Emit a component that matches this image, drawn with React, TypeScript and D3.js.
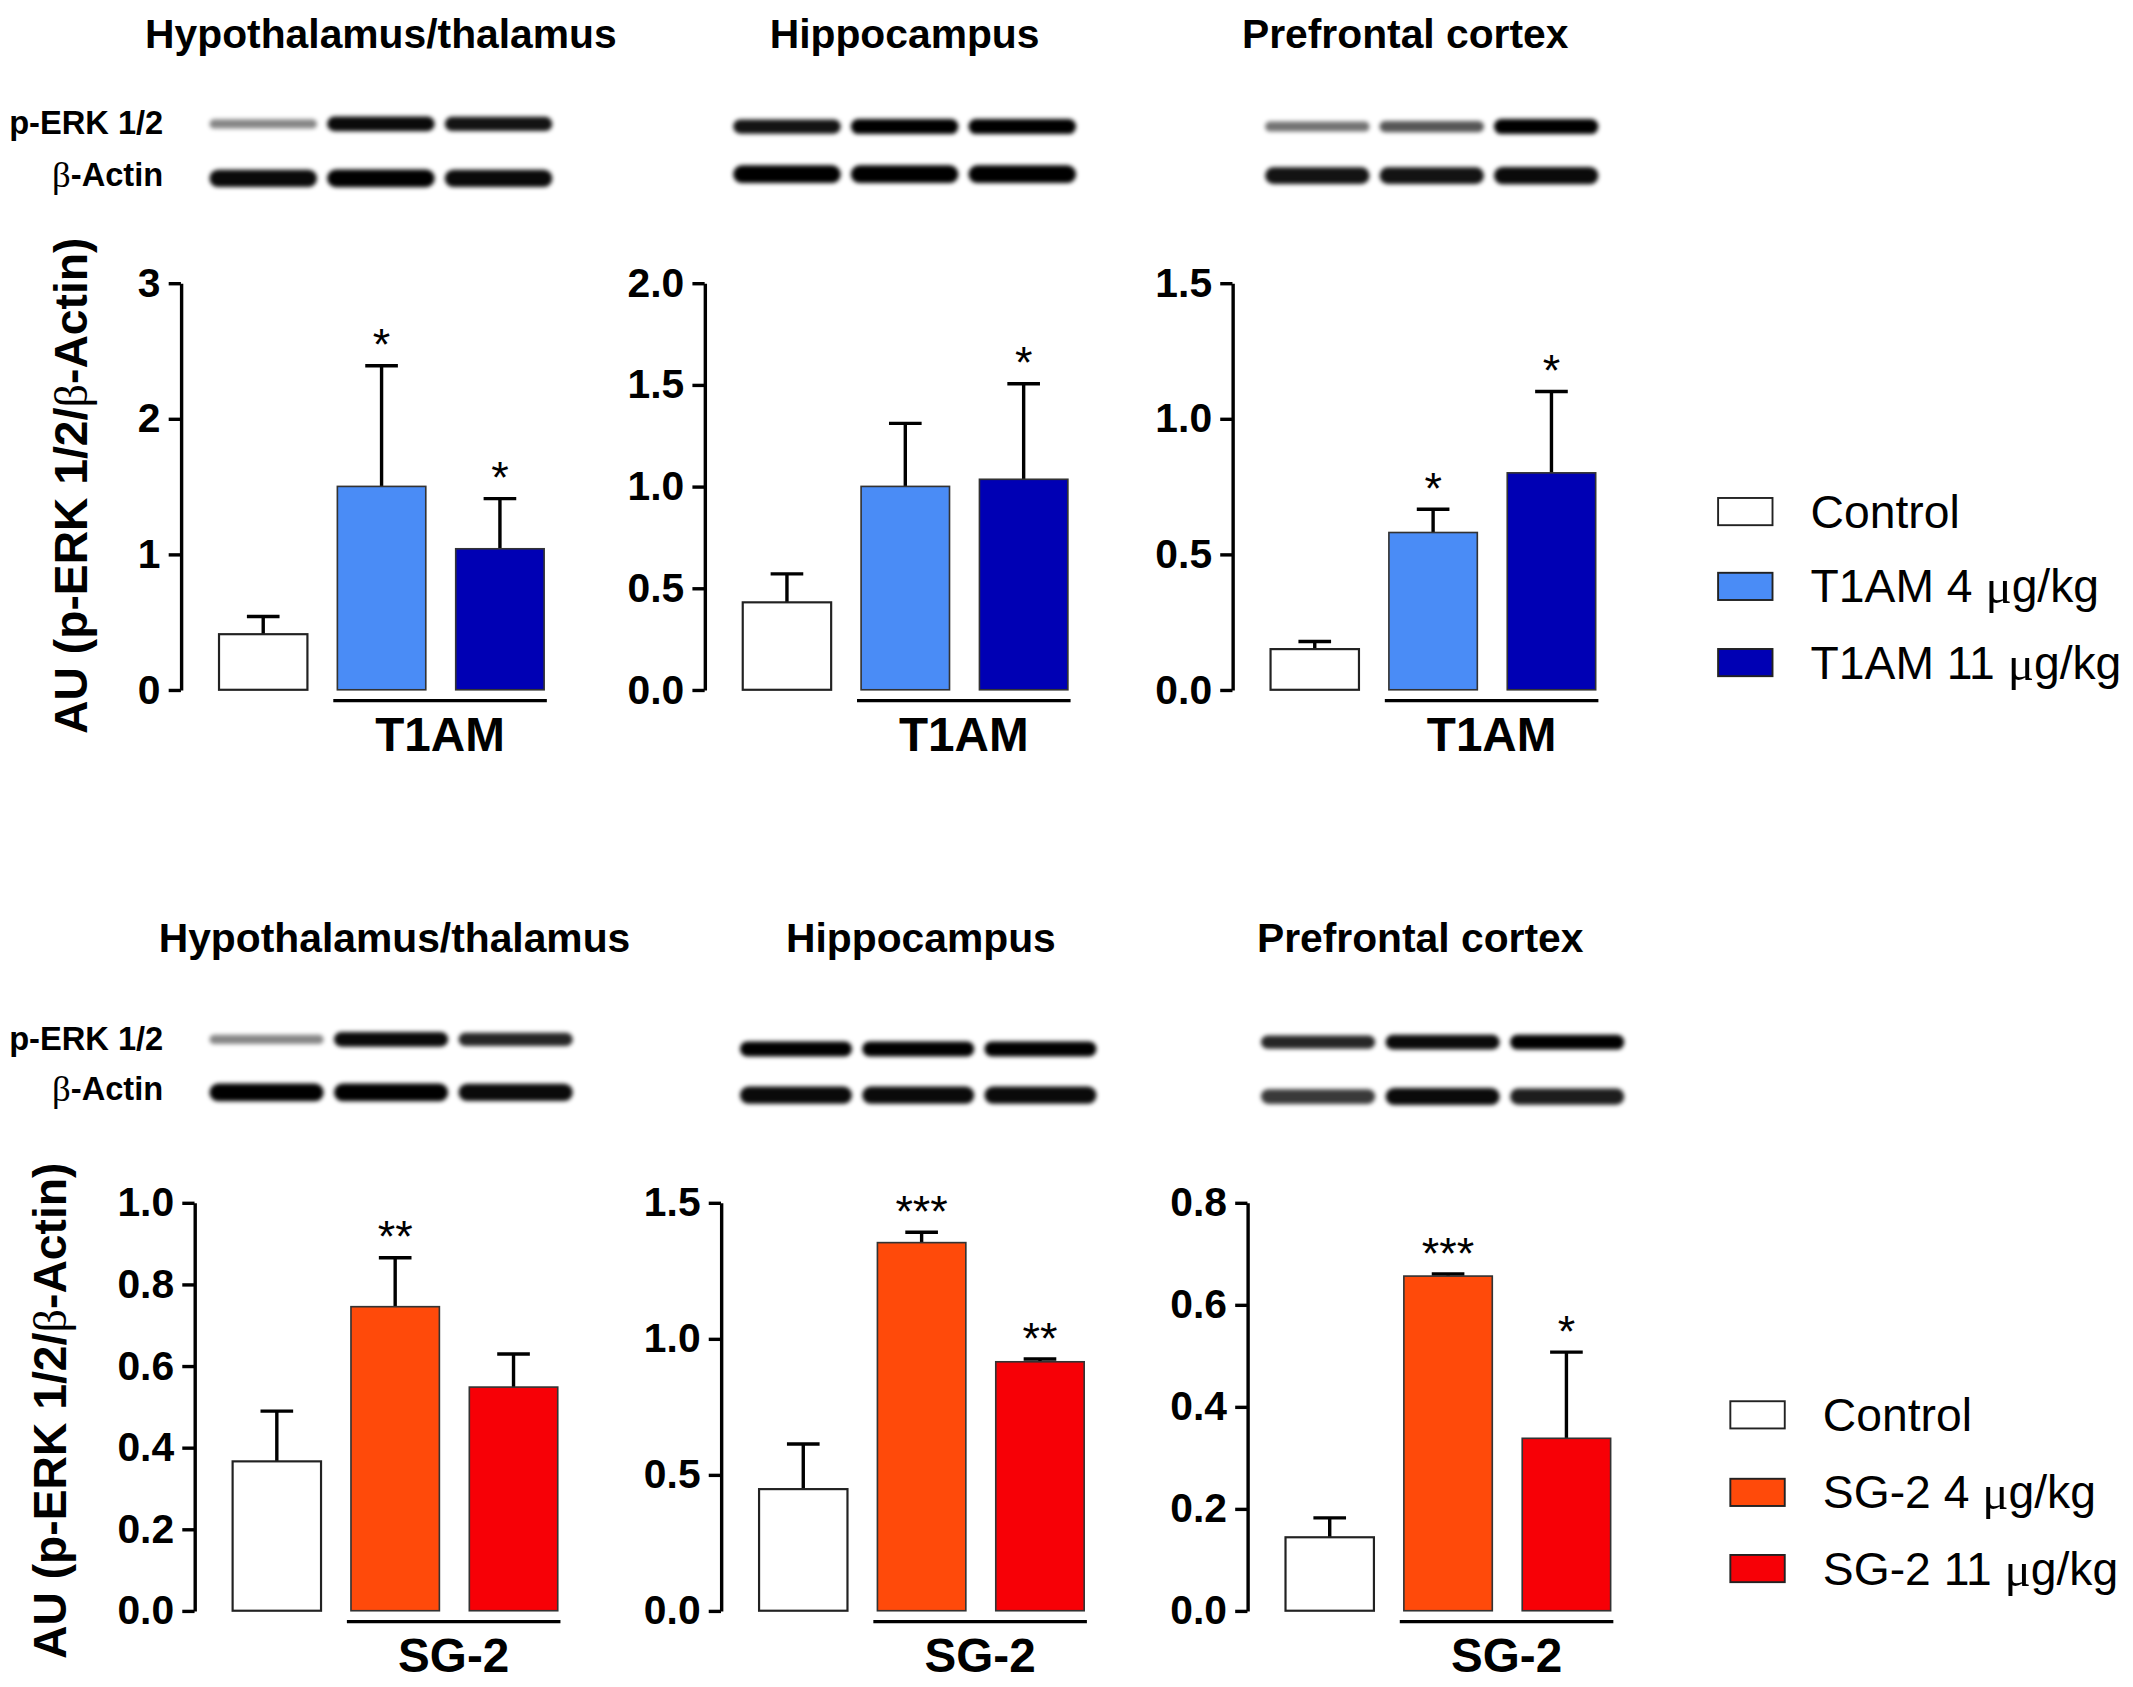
import React, { useEffect, useRef } from 'react';
import * as d3 from 'd3';

// drawing units (viewBox) – the svg is scaled up to 2133 x 1687
const W = 1568;
const H = 1240;

const regions = ['Hypothalamus/thalamus', 'Hippocampus', 'Prefrontal cortex'];

const t1amGroups = ['Control', 'T1AM 4 μg/kg', 'T1AM 11 μg/kg'];
const sg2Groups = ['Control', 'SG-2 4 μg/kg', 'SG-2 11 μg/kg'];

// means and SEM, one row per brain region
const t1amMeans = [
  [0.41, 1.5, 1.04],
  [0.43, 1.0, 1.035],
  [0.15, 0.58, 0.8],
];
const t1amSem = [
  [0.13, 0.89, 0.37],
  [0.14, 0.31, 0.47],
  [0.028, 0.086, 0.3],
];
const t1amStars = [
  ['', '*', '*'],
  ['', '', '*'],
  ['', '*', '*'],
];
const t1amTicks = [
  [0, 1, 2, 3],
  [0, 0.5, 1, 1.5, 2],
  [0, 0.5, 1, 1.5],
];
const t1amTickFormat = ['d', '.1f', '.1f'];

const sg2Means = [
  [0.366, 0.745, 0.548],
  [0.447, 1.353, 0.915],
  [0.144, 0.656, 0.338],
];
const sg2Sem = [
  [0.123, 0.12, 0.081],
  [0.166, 0.038, 0.01],
  [0.038, 0.004, 0.169],
];
const sg2Stars = [
  ['', '**', ''],
  ['', '***', '**'],
  ['', '***', '*'],
];
const sg2Ticks = [
  [0, 0.2, 0.4, 0.6, 0.8, 1.0],
  [0, 0.5, 1.0, 1.5],
  [0, 0.2, 0.4, 0.6, 0.8],
];
const sg2TickFormat = ['.1f', '.1f', '.1f'];

// western blot band darkness (0..1), per region, per lane
const t1amErkBands = [
  [0.3, 0.95, 0.9],
  [0.9, 1, 1],
  [0.4, 0.55, 1],
];
const t1amActinBands = [
  [0.95, 1, 0.95],
  [1, 1, 1],
  [0.9, 0.9, 0.95],
];
const sg2ErkBands = [
  [0.3, 0.95, 0.8],
  [1, 1, 1],
  [0.8, 0.95, 1],
];
const sg2ActinBands = [
  [1, 1, 0.95],
  [0.95, 0.95, 0.95],
  [0.7, 0.95, 0.85],
];

const t1amColors = ['#ffffff', '#4a8cf6', '#0000b4'];
const sg2Colors = ['#ffffff', '#ff4a0a', '#f70006'];

const FONT = '"Liberation Sans", Arial, Helvetica, sans-serif';
const SERIF = '"Liberation Serif", "Times New Roman", serif';

const rows = [
  {
    drug: 'T1AM',
    groups: t1amGroups,
    means: t1amMeans,
    sem: t1amSem,
    stars: t1amStars,
    ticks: t1amTicks,
    tickFormat: t1amTickFormat,
    colors: t1amColors,
    erk: t1amErkBands,
    actin: t1amActinBands,
    axisX: [133, 518, 906],
    top: 208,
    base: 507,
    titleY: 35,
    blotX: [
      [152, 408],
      [537, 793],
      [928, 1177],
    ],
    erkY: [91, 93, 93],
    actinY: [131, 128, 129],
    labelErkY: 90,
    labelActinY: 128,
    legendX: 1263,
    legendY: [376, 431, 487],
    yLabel: [52, 357],
  },
  {
    drug: 'SG-2',
    groups: sg2Groups,
    means: sg2Means,
    sem: sg2Sem,
    stars: sg2Stars,
    ticks: sg2Ticks,
    tickFormat: sg2TickFormat,
    colors: sg2Colors,
    erk: sg2ErkBands,
    actin: sg2ActinBands,
    axisX: [143, 530, 917],
    top: 884,
    base: 1184,
    titleY: 700,
    blotX: [
      [152, 423],
      [542, 808],
      [925, 1196],
    ],
    erkY: [764, 771, 766],
    actinY: [803, 805, 806],
    labelErkY: 763,
    labelActinY: 800,
    legendX: 1272,
    legendY: [1040, 1097, 1153],
    yLabel: [37, 1037],
  },
];

const titleShift = [0, 0, -20];

const App = () => {
  const svgRef = useRef(null);

  useEffect(() => {
    const svg = d3.select(svgRef.current);
    svg.selectAll('*').remove();

    const defs = svg.append('defs');
    defs
      .append('filter')
      .attr('id', 'blot-blur')
      .attr('x', '-20%')
      .attr('y', '-100%')
      .attr('width', '140%')
      .attr('height', '300%')
      .append('feGaussianBlur')
      .attr('stdDeviation', 1.7);

    svg.append('rect').attr('width', W).attr('height', H).attr('fill', '#fff');

    rows.forEach((row) => {
      const g = svg.append('g').attr('font-family', FONT);

      // y axis title
      const yl = g
        .append('text')
        .attr('transform', `translate(${row.yLabel[0]},${row.yLabel[1]}) rotate(-90)`)
        .attr('text-anchor', 'middle')
        .attr('dominant-baseline', 'central')
        .attr('font-size', 34)
        .attr('font-weight', 'bold');
      yl.append('tspan').text('AU (p-ERK 1/2/');
      yl.append('tspan').attr('font-family', SERIF).attr('font-weight', 'normal').text('β');
      yl.append('tspan').text('-Actin)');

      // blot labels
      g.append('text')
        .attr('x', 120)
        .attr('y', row.labelErkY)
        .attr('text-anchor', 'end')
        .attr('dominant-baseline', 'central')
        .attr('font-size', 24)
        .attr('font-weight', 'bold')
        .text('p-ERK 1/2');
      const al = g
        .append('text')
        .attr('x', 120)
        .attr('y', row.labelActinY)
        .attr('text-anchor', 'end')
        .attr('dominant-baseline', 'central')
        .attr('font-size', 24)
        .attr('font-weight', 'bold');
      al.append('tspan').attr('font-family', SERIF).attr('font-weight', 'normal').attr('font-size', 27).text('β');
      al.append('tspan').text('-Actin');

      regions.forEach((region, ri) => {
        const ax = row.axisX[ri];
        const ticks = row.ticks[ri];
        const y = d3
          .scaleLinear()
          .domain([0, ticks[ticks.length - 1]])
          .range([row.base, row.top]);
        const x = d3
          .scaleBand()
          .domain(row.groups)
          .range([ax + 28, ax + 267])
          .paddingInner(0.253)
          .paddingOuter(0);
        const bw = x.bandwidth();

        // title
        g.append('text')
          .attr('x', ax + 147 + titleShift[ri])
          .attr('y', row.titleY)
          .attr('text-anchor', 'middle')
          .attr('font-size', 30)
          .attr('font-weight', 'bold')
          .text(region);

        // blots
        const lanes = d3
          .scaleBand()
          .domain(row.groups)
          .range(row.blotX[ri])
          .paddingInner(0.04);
        const blot = g.append('g').attr('filter', 'url(#blot-blur)');
        const drawBands = (vals, cy, base) => {
          blot
            .selectAll(null)
            .data(vals)
            .enter()
            .append('rect')
            .attr('x', (d, i) => lanes(row.groups[i]) + 2)
            .attr('width', lanes.bandwidth() - 4)
            .attr('y', (d) => cy - (base * (0.45 + 0.55 * d)) / 2)
            .attr('height', (d) => base * (0.45 + 0.55 * d))
            .attr('rx', (d) => (base * (0.45 + 0.55 * d)) / 2)
            .attr('fill', (d) => `rgba(0,0,0,${0.25 + 0.75 * d})`);
        };
        drawBands(row.erk[ri], row.erkY[ri], 11);
        drawBands(row.actin[ri], row.actinY[ri], 13);

        // bars
        const data = row.groups.map((grp, i) => ({
          grp,
          mean: row.means[ri][i],
          sem: row.sem[ri][i],
          star: row.stars[ri][i],
          color: row.colors[i],
        }));

        // error bars (upper only)
        g.selectAll(null)
          .data(data)
          .enter()
          .append('line')
          .attr('x1', (d) => x(d.grp) + bw / 2)
          .attr('x2', (d) => x(d.grp) + bw / 2)
          .attr('y1', (d) => y(d.mean))
          .attr('y2', (d) => y(d.mean + d.sem))
          .attr('stroke', '#000')
          .attr('stroke-width', 2.5);
        g.selectAll(null)
          .data(data)
          .enter()
          .append('line')
          .attr('x1', (d) => x(d.grp) + bw / 2 - 12)
          .attr('x2', (d) => x(d.grp) + bw / 2 + 12)
          .attr('y1', (d) => y(d.mean + d.sem))
          .attr('y2', (d) => y(d.mean + d.sem))
          .attr('stroke', '#000')
          .attr('stroke-width', 2.5);

        g.selectAll(null)
          .data(data)
          .enter()
          .append('rect')
          .attr('x', (d) => x(d.grp))
          .attr('y', (d) => y(d.mean))
          .attr('width', bw)
          .attr('height', (d) => row.base - y(d.mean))
          .attr('fill', (d) => d.color)
          .attr('stroke', (d, i) => (i === 0 ? '#222' : '#333'))
          .attr('stroke-width', (d, i) => (i === 0 ? 1.6 : 1.2));

        // significance stars
        g.selectAll(null)
          .data(data.filter((d) => d.star))
          .enter()
          .append('text')
          .attr('x', (d) => x(d.grp) + bw / 2)
          .attr('y', (d) => y(d.mean + d.sem) - 4)
          .attr('text-anchor', 'middle')
          .attr('font-size', 33)
          .text((d) => d.star);

        // axis
        const axis = g
          .append('g')
          .attr('transform', `translate(${ax},0)`)
          .call(
            d3
              .axisLeft(y)
              .tickValues(ticks)
              .tickSize(9)
              .tickSizeOuter(0)
              .tickPadding(6)
              .tickFormat(d3.format(row.tickFormat[ri]))
          );
        axis.select('.domain').attr('stroke-width', 2.5);
        axis.selectAll('.tick line').attr('stroke-width', 2.5);
        axis
          .selectAll('.tick text')
          .attr('font-family', FONT)
          .attr('font-size', 30)
          .attr('font-weight', 'bold')
          .attr('fill', '#000');

        // drug bracket
        const bx0 = x(row.groups[1]) - 3;
        const bx1 = x(row.groups[2]) + bw + 2;
        g.append('line')
          .attr('x1', bx0)
          .attr('x2', bx1)
          .attr('y1', row.base + 8)
          .attr('y2', row.base + 8)
          .attr('stroke', '#000')
          .attr('stroke-width', 2.5);
        g.append('text')
          .attr('x', (bx0 + bx1) / 2)
          .attr('y', row.base + 45)
          .attr('text-anchor', 'middle')
          .attr('font-size', 35)
          .attr('font-weight', 'bold')
          .text(row.drug);
      });

      // legend
      const leg = g
        .selectAll(null)
        .data(row.groups)
        .enter()
        .append('g')
        .attr('transform', (d, i) => `translate(${row.legendX},${row.legendY[i]})`);
      leg
        .append('rect')
        .attr('x', 0)
        .attr('y', -10)
        .attr('width', 40)
        .attr('height', 20)
        .attr('fill', (d, i) => row.colors[i])
        .attr('stroke', '#222')
        .attr('stroke-width', 1.4);
      leg.each(function (d) {
        const t = d3
          .select(this)
          .append('text')
          .attr('x', 68)
          .attr('y', 0)
          .attr('dominant-baseline', 'central')
          .attr('font-size', 34);
        const parts = d.split('μ');
        t.append('tspan').text(parts[0]);
        if (parts.length > 1) {
          t.append('tspan').attr('font-family', SERIF).attr('font-size', 36).text('μ');
          t.append('tspan').text(parts[1]);
        }
      });
    });

    return () => {
      svg.selectAll('*').remove();
    };
  }, []);

  return (
    <svg
      ref={svgRef}
      width={2133}
      height={1687}
      viewBox={`0 0 ${W} ${H}`}
      style={{ position: 'absolute', left: 0, top: 0, background: '#fff' }}
    />
  );
};

export default App;
